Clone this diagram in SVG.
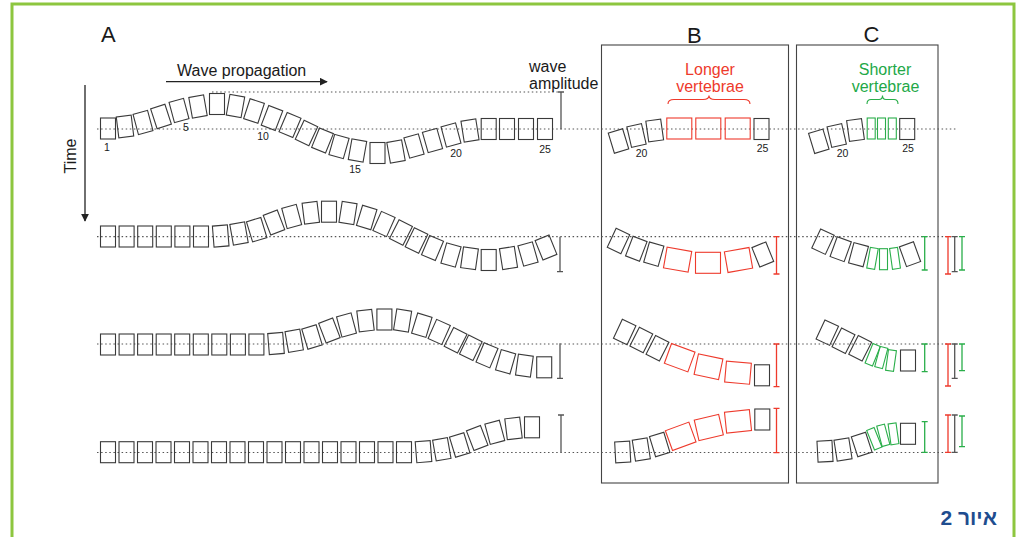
<svg xmlns="http://www.w3.org/2000/svg" xmlns:xlink="http://www.w3.org/1999/xlink" width="1019" height="537" viewBox="0 0 1019 537">
<style>
.t{font-family:"Liberation Sans",Arial,sans-serif;fill:#1a1a1a}
.lbl{font-size:16px}
.num{font-size:10.5px;text-anchor:middle}
.big{font-size:22px}
.blk{fill:none;stroke:#3a3a3a;stroke-width:1.1}
.red{fill:none;stroke:#ee3a2c;stroke-width:1.1}
.grn{fill:none;stroke:#2aae4a;stroke-width:1.1}
.dot{stroke:#555;stroke-width:1.2;stroke-dasharray:1.5 2.6;fill:none}
.barK{stroke:#555;stroke-width:1.3;fill:none}
.barR{stroke:#ee3a2c;stroke-width:1.3;fill:none}
.barG{stroke:#2aae4a;stroke-width:1.3;fill:none}
.panel{fill:none;stroke:#444;stroke-width:1.1}
</style>
<defs>
<rect id="k" x="-7.5" y="-10.5" width="15" height="21"/>
<rect id="r" x="-12.5" y="-10.5" width="25" height="21"/>
<rect id="g" x="-4" y="-10.5" width="8" height="21"/>
<marker id="ah" viewBox="0 0 10 10" refX="9" refY="5" markerWidth="8" markerHeight="8" markerUnits="userSpaceOnUse" orient="auto"><path d="M0,0 L10,5 L0,10 Z" fill="#222"/></marker>
</defs>
<rect x="0" y="0" width="1019" height="537" fill="#fff"/>
<path d="M12,537 V4 H1014 V537" fill="none" stroke="#8dc63f" stroke-width="3"/>

<g id="panels">
<rect class="panel" x="601.5" y="45" width="187" height="438"/>
<rect class="panel" x="796.5" y="45" width="141.5" height="438"/>
</g>

<g id="baselines">
<path class="dot" d="M97,129 H956 M97,236.7 H956 M97,344 H956 M97,452.5 H956 M212,92 H560"/>
</g>

<g id="labels" class="t">
<text class="big t" x="101" y="41.7">A</text>
<text class="big t" x="687" y="42.7">B</text>
<text class="big t" x="863.5" y="42">C</text>
<text class="lbl t" x="177" y="76">Wave propagation</text>
<text class="lbl t" x="529" y="71.7">wave</text>
<text class="lbl t" x="529" y="88.5">amplitude</text>
<text class="lbl t" transform="translate(76 156) rotate(-90)" text-anchor="middle">Time</text>
<text class="lbl" x="710" y="75" text-anchor="middle" fill="#ee3a2c" style="font-family:'Liberation Sans',Arial,sans-serif">Longer</text>
<text class="lbl" x="710" y="92" text-anchor="middle" fill="#ee3a2c" style="font-family:'Liberation Sans',Arial,sans-serif">vertebrae</text>
<text class="lbl" x="885" y="75" text-anchor="middle" fill="#22a847" style="font-family:'Liberation Sans',Arial,sans-serif">Shorter</text>
<text class="lbl" x="885.5" y="92" text-anchor="middle" fill="#22a847" style="font-family:'Liberation Sans',Arial,sans-serif">vertebrae</text>
<text class="num t" x="107" y="151">1</text>
<text class="num t" x="186" y="131">5</text>
<text class="num t" x="263" y="140">10</text>
<text class="num t" x="355" y="172.5">15</text>
<text class="num t" x="456" y="157">20</text>
<text class="num t" x="545" y="152.5">25</text>
<text class="num t" x="641.5" y="156.5">20</text>
<text class="num t" x="762.5" y="151.5">25</text>
<text class="num t" x="842.5" y="156.5">20</text>
<text class="num t" x="908" y="151.5">25</text>
<text x="997" y="525" direction="rtl" text-anchor="start" style="font-family:'Liberation Sans','DejaVu Sans',sans-serif;font-size:21px;font-weight:bold" fill="#1f4d8f">איור 2</text>
</g>

<g id="arrows" fill="none" stroke="#222" stroke-width="1.3">
<line x1="166" y1="81.7" x2="327" y2="81.7" marker-end="url(#ah)"/>
<line x1="85" y1="85" x2="85" y2="221" marker-end="url(#ah)"/>
</g>

<g id="A-row1" class="blk">
<use href="#k" transform="translate(108 128.5)"/>
<use href="#k" transform="translate(125 126.5) rotate(-7)"/>
<use href="#k" transform="translate(143 122.5) rotate(-15)"/>
<use href="#k" transform="translate(161 116.5) rotate(-18)"/>
<use href="#k" transform="translate(179 110.5) rotate(-15)"/>
<use href="#k" transform="translate(198 106.5) rotate(-10)"/>
<use href="#k" transform="translate(217 104)"/>
<use href="#k" transform="translate(235.5 106) rotate(10)"/>
<use href="#k" transform="translate(254 111) rotate(18)"/>
<use href="#k" transform="translate(272 118) rotate(21)"/>
<use href="#k" transform="translate(290 125) rotate(23)"/>
<use href="#k" transform="translate(306.5 133) rotate(25)"/>
<use href="#k" transform="translate(322.5 140.5) rotate(22)"/>
<use href="#k" transform="translate(339 146.5) rotate(16)"/>
<use href="#k" transform="translate(357.5 150.5) rotate(10)"/>
<use href="#k" transform="translate(377.5 153)"/>
<use href="#k" transform="translate(396 151.5) rotate(-10)"/>
<use href="#k" transform="translate(414 146) rotate(-16)"/>
<use href="#k" transform="translate(432.5 140.5) rotate(-16)"/>
<use href="#k" transform="translate(451 135) rotate(-15)"/>
<use href="#k" transform="translate(470 130.5) rotate(-9)"/>
<use href="#k" transform="translate(488.7 129)"/>
<use href="#k" transform="translate(507 129)"/>
<use href="#k" transform="translate(526 129)"/>
<use href="#k" transform="translate(545 129)"/>
</g>

<g id="A-row2" class="blk">
<use href="#k" transform="translate(108 236.5)"/>
<use href="#k" transform="translate(126.6 236.5)"/>
<use href="#k" transform="translate(145.2 236.5)"/>
<use href="#k" transform="translate(163.8 236.5)"/>
<use href="#k" transform="translate(182.4 236.5)"/>
<use href="#k" transform="translate(201 236.5)"/>
<use href="#k" transform="translate(220.7 236) rotate(-4.5)"/>
<use href="#k" transform="translate(239 233.5) rotate(-10)"/>
<use href="#k" transform="translate(256.7 229.7) rotate(-17)"/>
<use href="#k" transform="translate(274 222.5) rotate(-21)"/>
<use href="#k" transform="translate(291.7 216.5) rotate(-15)"/>
<use href="#k" transform="translate(310.8 212.7) rotate(-7)"/>
<use href="#k" transform="translate(329 211.7)"/>
<use href="#k" transform="translate(348 213) rotate(9)"/>
<use href="#k" transform="translate(366.7 217.5) rotate(17)"/>
<use href="#k" transform="translate(384 224) rotate(24)"/>
<use href="#k" transform="translate(401 232.5) rotate(27)"/>
<use href="#k" transform="translate(416.5 240.5) rotate(26)"/>
<use href="#k" transform="translate(432.5 248) rotate(23)"/>
<use href="#k" transform="translate(451 255) rotate(16)"/>
<use href="#k" transform="translate(469.5 258.3) rotate(8)"/>
<use href="#k" transform="translate(488.7 260)"/>
<use href="#k" transform="translate(508.5 258) rotate(-9)"/>
<use href="#k" transform="translate(528 254) rotate(-16)"/>
<use href="#k" transform="translate(546 247.5) rotate(-22)"/>
</g>

<g id="A-row3" class="blk">
<use href="#k" transform="translate(108 344.5)"/>
<use href="#k" transform="translate(126.6 344.5)"/>
<use href="#k" transform="translate(145.1 344.5)"/>
<use href="#k" transform="translate(163.7 344.5)"/>
<use href="#k" transform="translate(182.2 344.5)"/>
<use href="#k" transform="translate(200.8 344.5)"/>
<use href="#k" transform="translate(219.3 344.5)"/>
<use href="#k" transform="translate(237.9 344.5)"/>
<use href="#k" transform="translate(256.4 344.5)"/>
<use href="#k" transform="translate(276 343.5) rotate(-4.5)"/>
<use href="#k" transform="translate(294.2 340.8) rotate(-10)"/>
<use href="#k" transform="translate(312 337) rotate(-17)"/>
<use href="#k" transform="translate(329.4 330.5) rotate(-21)"/>
<use href="#k" transform="translate(346.5 325) rotate(-15)"/>
<use href="#k" transform="translate(365.5 320.6) rotate(-7)"/>
<use href="#k" transform="translate(384.4 319.5)"/>
<use href="#k" transform="translate(402.6 320.5) rotate(9)"/>
<use href="#k" transform="translate(421.8 325.2) rotate(17)"/>
<use href="#k" transform="translate(439.2 332) rotate(24)"/>
<use href="#k" transform="translate(455.6 340.3) rotate(27)"/>
<use href="#k" transform="translate(470.8 347.8) rotate(26)"/>
<use href="#k" transform="translate(487 355.3) rotate(23)"/>
<use href="#k" transform="translate(505.6 361.8) rotate(16)"/>
<use href="#k" transform="translate(524.4 365.6) rotate(8)"/>
<use href="#k" transform="translate(544.2 367.3)"/>
</g>

<g id="A-row4" class="blk">
<use href="#k" transform="translate(108 452.2)"/>
<use href="#k" transform="translate(126.5 452.2)"/>
<use href="#k" transform="translate(145 452.2)"/>
<use href="#k" transform="translate(163.5 452.2)"/>
<use href="#k" transform="translate(182 452.2)"/>
<use href="#k" transform="translate(200.5 452.2)"/>
<use href="#k" transform="translate(219 452.2)"/>
<use href="#k" transform="translate(237.5 452.2)"/>
<use href="#k" transform="translate(256 452.2)"/>
<use href="#k" transform="translate(274.5 452.2)"/>
<use href="#k" transform="translate(293 452.2)"/>
<use href="#k" transform="translate(311.5 452.2)"/>
<use href="#k" transform="translate(330 452.2)"/>
<use href="#k" transform="translate(348.5 452.2)"/>
<use href="#k" transform="translate(367 452.2)"/>
<use href="#k" transform="translate(385.5 452.2)"/>
<use href="#k" transform="translate(404 452.2)"/>
<use href="#k" transform="translate(423.5 451.7) rotate(-4.5)"/>
<use href="#k" transform="translate(441.8 449.3) rotate(-10)"/>
<use href="#k" transform="translate(459.7 445) rotate(-17)"/>
<use href="#k" transform="translate(477.2 438) rotate(-21)"/>
<use href="#k" transform="translate(494.8 432.3) rotate(-15)"/>
<use href="#k" transform="translate(513.5 428.4) rotate(-7)"/>
<use href="#k" transform="translate(532 427.3)"/>
</g>

<g id="A-bars" class="barK">
<path d="M561,92 V129.3 M558,92 H564"/>
<path d="M560,236.7 V271.7 M557,271.7 H563"/>
<path d="M560,343.3 V378.3 M557,378.3 H563"/>
<path d="M561,415 V452.3 M558,415 H564"/>
</g>

<g id="B-row1">
<g class="blk">
<use href="#k" transform="translate(618.5 141) rotate(-17)"/>
<use href="#k" transform="translate(636.5 135.5) rotate(-13)"/>
<use href="#k" transform="translate(654.7 130.5) rotate(-8)"/>
<use href="#k" transform="translate(761.5 129)"/>
</g>
<g class="red">
<use href="#r" transform="translate(679.3 128.5)"/>
<use href="#r" transform="translate(708.3 128.5)"/>
<use href="#r" transform="translate(737.7 128.5)"/>
</g>
<path class="red" d="M668,104 C668,100.5 670,99.5 674,99.5 L703,99.5 C707,99.5 709,98 709,95.5 C709,98 711,99.5 715,99.5 L744,99.5 C748,99.5 750,100.5 750,104"/>
</g>

<g id="B-row2">
<g class="blk">
<use href="#k" transform="translate(618.5 241) rotate(25)"/>
<use href="#k" transform="translate(636.3 248.8) rotate(21)"/>
<use href="#k" transform="translate(653.8 254.2) rotate(16)"/>
<use href="#k" transform="translate(762.8 254.5) rotate(-22)"/>
</g>
<g class="red">
<use href="#r" transform="translate(677.6 259.7) rotate(10)"/>
<use href="#r" transform="translate(708 262.8)"/>
<use href="#r" transform="translate(738.5 260) rotate(-10)"/>
</g>
<path class="barR" d="M776.5,236.7 V274 M773.5,236.7 H779.5 M773.5,274 H779.5"/>
</g>

<g id="B-row3">
<g class="blk">
<use href="#k" transform="translate(624.7 332) rotate(25)"/>
<use href="#k" transform="translate(641.3 340) rotate(27)"/>
<use href="#k" transform="translate(657.5 348.3) rotate(27)"/>
<use href="#k" transform="translate(762 375.3)"/>
</g>
<g class="red">
<use href="#r" transform="translate(679.7 357.7) rotate(20)"/>
<use href="#r" transform="translate(708.5 366.7) rotate(12)"/>
<use href="#r" transform="translate(738 372.7) rotate(5)"/>
</g>
<path class="barR" d="M776.5,344 V386.7 M773.5,344 H779.5 M773.5,386.7 H779.5"/>
</g>

<g id="B-row4">
<g class="blk">
<use href="#k" transform="translate(622.7 452) rotate(-3)"/>
<use href="#k" transform="translate(641.3 449.5) rotate(-9)"/>
<use href="#k" transform="translate(659.7 444.5) rotate(-17)"/>
<use href="#k" transform="translate(762.3 419.5)"/>
</g>
<g class="red">
<use href="#r" transform="translate(680.7 436.3) rotate(-20)"/>
<use href="#r" transform="translate(708.8 427.5) rotate(-13)"/>
<use href="#r" transform="translate(738 421.3) rotate(-6)"/>
</g>
<path class="barR" d="M776.5,408.3 V452.7 M773.5,408.3 H779.5 M773.5,452.7 H779.5"/>
</g>

<g id="C-row1">
<g class="blk">
<use href="#k" transform="translate(818.8 141.3) rotate(-17)"/>
<use href="#k" transform="translate(836.7 135.5) rotate(-13)"/>
<use href="#k" transform="translate(855.5 130) rotate(-8)"/>
<use href="#k" transform="translate(907.2 129)"/>
</g>
<g class="grn">
<use href="#g" transform="translate(871.2 128.5)"/>
<use href="#g" transform="translate(881.5 128.5)"/>
<use href="#g" transform="translate(892.3 128.5)"/>
</g>
<path class="grn" d="M867,104 C867,100.5 868.5,99.5 871,99.5 L879,99.5 C881.5,99.5 882.5,98 882.5,95.5 C882.5,98 883.5,99.5 886,99.5 L894,99.5 C896.5,99.5 898,100.5 898,104"/>
</g>

<g id="C-row2">
<g class="blk">
<use href="#k" transform="translate(823 241.7) rotate(25)"/>
<use href="#k" transform="translate(840.7 249.2) rotate(20)"/>
<use href="#k" transform="translate(858.5 254.7) rotate(15)"/>
<use href="#k" transform="translate(910 254.2) rotate(-20)"/>
</g>
<g class="grn">
<use href="#g" transform="translate(872.5 258.3) rotate(10)"/>
<use href="#g" transform="translate(883.5 259.2)"/>
<use href="#g" transform="translate(895 258.3) rotate(-8)"/>
</g>
<path class="barG" d="M924.7,236.7 V270 M921.7,236.7 H927.7 M921.7,270 H927.7"/>
</g>

<g id="C-row3">
<g class="blk">
<use href="#k" transform="translate(827.3 332.7) rotate(25)"/>
<use href="#k" transform="translate(843.5 340.7) rotate(27)"/>
<use href="#k" transform="translate(860.2 348.3) rotate(27)"/>
<use href="#k" transform="translate(908 360.5)"/>
</g>
<g class="grn">
<use href="#g" transform="translate(872.7 354.7) rotate(22)"/>
<use href="#g" transform="translate(881.3 357.5) rotate(15)"/>
<use href="#g" transform="translate(891 360.5) rotate(8)"/>
</g>
<path class="barG" d="M924.7,344 V371.7 M921.7,344 H927.7 M921.7,371.7 H927.7"/>
</g>

<g id="C-row4">
<g class="blk">
<use href="#k" transform="translate(825 451.3) rotate(-3)"/>
<use href="#k" transform="translate(843 449.5) rotate(-9)"/>
<use href="#k" transform="translate(861.7 444.5) rotate(-18)"/>
<use href="#k" transform="translate(908 433.8)"/>
</g>
<g class="grn">
<use href="#g" transform="translate(874.3 438.7) rotate(-22)"/>
<use href="#g" transform="translate(883.3 435.3) rotate(-15)"/>
<use href="#g" transform="translate(893.5 433.8) rotate(-8)"/>
</g>
<path class="barG" d="M924.7,421.7 V452.3 M921.7,421.7 H927.7 M921.7,452.3 H927.7"/>
</g>

<g id="compare-bars">
<path class="barR" d="M948,236.7 V274 M945,236.7 H951 M945,274 H951"/>
<path class="barK" d="M954.7,236.7 V271.7 M951.7,236.7 H957.7 M951.7,271.7 H957.7"/>
<path class="barG" d="M962,236.7 V270 M959,236.7 H965 M959,270 H965"/>
<path class="barR" d="M948,344 V386 M945,344 H951 M945,386 H951"/>
<path class="barK" d="M954.7,344 V378.3 M951.7,344 H957.7 M951.7,378.3 H957.7"/>
<path class="barG" d="M962,344 V370.7 M959,344 H965 M959,370.7 H965"/>
<path class="barR" d="M948,415 V452.3 M945,415 H951 M945,452.3 H951"/>
<path class="barK" d="M954.7,415 V452.3 M951.7,415 H957.7 M951.7,452.3 H957.7"/>
<path class="barG" d="M962,416 V446.7 M959,416 H965 M959,446.7 H965"/>
</g>
</svg>
